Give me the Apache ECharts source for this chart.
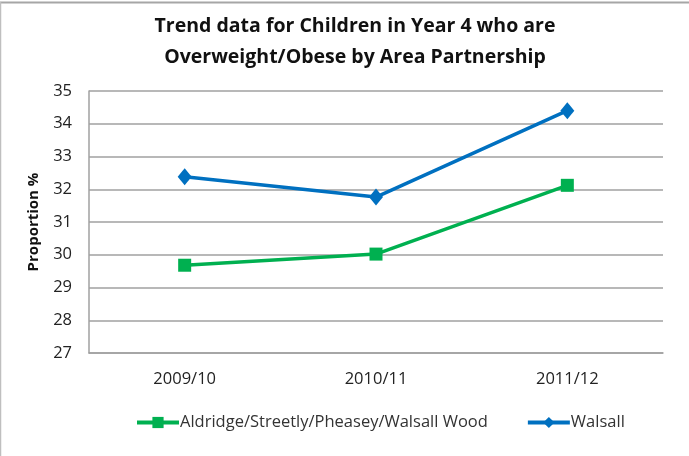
<!DOCTYPE html>
<html>
<head>
<meta charset="utf-8">
<script src="https://cdn.jsdelivr.net/npm/echarts@6/dist/echarts.min.js"></script>
<style>
  html, body { margin: 0; padding: 0; background: #fff; }
  #chart { width: 689px; height: 456px; }
</style>
</head>
<body>
<div id="chart"></div>
<script>
// School years on the category axis
const years = ['2009/10', '2010/11', '2011/12'];
// Percentage of Year 4 children overweight/obese
const aldridgeValues = [29.68, 30.02, 32.12];
const walsallValues = [32.38, 31.76, 34.40];
const seriesNames = ['Aldridge/Streetly/Pheasey/Walsall Wood', 'Walsall'];
const yMin = 27, yMax = 35, yStep = 1;

const font = '"Open Sans", "DejaVu Sans", sans-serif';
const chart = echarts.init(document.getElementById('chart'));

chart.setOption({
  animation: false,
  backgroundColor: '#ffffff',
  title: {
    text: 'Trend data for Children in Year 4 who are\nOverweight/Obese by Area Partnership',
    left: 350,
    textAlign: 'center',
    top: 6,
    textStyle: {
      fontFamily: font,
      fontWeight: 'bold',
      fontSize: 19.5,
      lineHeight: 31,
      color: '#111111'
    }
  },
  graphic: [
    { type: 'line', shape: { x1: 0, y1: 2.5, x2: 689, y2: 2.5 }, style: { stroke: '#a6a6a6', lineWidth: 2 } },
    { type: 'line', shape: { x1: 0.5, y1: 2, x2: 0.5, y2: 456 }, style: { stroke: '#bfbfbf', lineWidth: 1.5 } }
  ],
  grid: { left: 89, right: 26, top: 91, bottom: 103 },
  legend: {
    left: 130,
    top: 409,
    itemWidth: 42,
    itemHeight: 14,
    itemGap: 38,
    lineStyle: { width: 4 },
    textStyle: { fontFamily: font, fontSize: 16.5, color: '#333333', padding: [0, 0, 0, -4] },
    data: seriesNames
  },
  xAxis: {
    type: 'category',
    data: years,
    boundaryGap: true,
    axisLine: { lineStyle: { color: '#a0a0a0', width: 1.5 } },
    axisTick: { show: false },
    axisLabel: { fontFamily: font, fontSize: 16.5, color: '#222222', margin: 18 },
    splitLine: { show: false }
  },
  yAxis: {
    type: 'value',
    min: yMin,
    max: yMax,
    interval: yStep,
    name: 'Proportion %',
    nameLocation: 'middle',
    nameGap: 48,
    nameRotate: 90,
    nameTextStyle: { fontFamily: font, fontWeight: 'bold', fontSize: 15, color: '#111111' },
    axisLine: { show: true, lineStyle: { color: '#a0a0a0', width: 1.5 } },
    axisTick: { show: false },
    axisLabel: { fontFamily: font, fontSize: 16.5, color: '#222222', margin: 17 },
    splitLine: { lineStyle: { color: '#a0a0a0', width: 1.5 } }
  },
  series: [
    {
      name: seriesNames[0],
      type: 'line',
      data: aldridgeValues,
      symbol: 'rect',
      symbolSize: 13,
      lineStyle: { color: '#00b050', width: 3.5 },
      itemStyle: { color: '#00b050' },
      z: 3
    },
    {
      name: seriesNames[1],
      type: 'line',
      data: walsallValues,
      symbol: 'diamond',
      symbolSize: [14, 17],
      lineStyle: { color: '#0070c0', width: 3.5 },
      itemStyle: { color: '#0070c0' },
      z: 4
    }
  ]
});
</script>
</body>
</html>
